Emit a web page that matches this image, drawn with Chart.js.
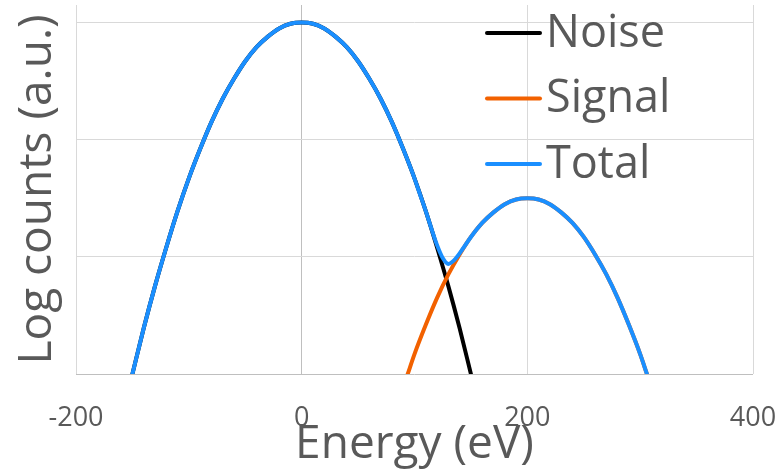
<!DOCTYPE html>
<html>
<head>
<meta charset="utf-8">
<script src="https://cdn.jsdelivr.net/npm/chart.js@4.4.0/dist/chart.umd.min.js"></script>
<style>
  html, body { margin: 0; padding: 0; background: #fff; }
  #wrap { width: 783px; height: 472px; position: relative; }
</style>
</head>
<body>
<div id="wrap"><canvas id="spectrumChart"></canvas></div>
<script>
// Energy axis ticks
const xTicks = [-200, 0, 200, 400];

// Noise (log counts)
const noiseEnergy = [-150, -140, -130, -120, -110, -100, -90, -80, -70, -60, -50, -40, -30, -20, -10,
    0, 10, 20, 30, 40, 50, 60, 70, 80, 90, 100, 110, 120, 130, 140, 150];
const noiseCounts = [0, 0.39, 0.75, 1.08, 1.39, 1.67, 1.92, 2.15, 2.35, 2.52, 2.67, 2.79, 2.88, 2.95, 2.99,
    3.00, 2.99, 2.95, 2.88, 2.79, 2.67, 2.52, 2.35, 2.15, 1.92, 1.67, 1.39, 1.08, 0.75, 0.39, 0];

// Signal
const signalEnergy = [94, 100, 110, 120, 130, 140, 150, 160, 170, 180, 190, 200,
    210, 220, 230, 240, 250, 260, 270, 280, 290, 300, 306];
const signalCounts = [0, 0.17, 0.42, 0.65, 0.85, 1.02, 1.17, 1.29, 1.38, 1.45, 1.49, 1.50,
    1.49, 1.45, 1.38, 1.29, 1.17, 1.02, 0.85, 0.65, 0.42, 0.17, 0];

// Total
const totalEnergy = [-150, -140, -130, -120, -110, -100, -90, -80, -70, -60, -50, -40, -30, -20, -10,
    0, 10, 20, 30, 40, 50, 60, 70, 80, 90, 100, 105, 110, 115, 120, 125, 130, 135, 140, 145, 150,
    160, 170, 180, 190, 200, 210, 220, 230, 240, 250, 260, 270, 280, 290, 300, 306];
const totalCounts = [0, 0.39, 0.75, 1.08, 1.39, 1.67, 1.92, 2.15, 2.35, 2.52, 2.67, 2.79, 2.88, 2.95, 2.99,
    3.00, 2.99, 2.95, 2.88, 2.79, 2.67, 2.52, 2.35, 2.15, 1.92, 1.67, 1.53, 1.39, 1.24, 1.10, 0.99, 0.94, 0.97, 1.03, 1.10, 1.17,
    1.29, 1.38, 1.45, 1.49, 1.50, 1.49, 1.45, 1.38, 1.29, 1.17, 1.02, 0.85, 0.65, 0.42, 0.17, 0];

const TEXT_COLOR = '#595959';

function toPoints(xs, ys) {
    return xs.map((x, i) => ({ x: x, y: ys[i] }));
}

// legend drawn inside the plot, top right
const insideLegend = {
    id: 'insideLegend',
    afterDraw(chart) {
        const { ctx, chartArea } = chart;
        const x0 = chartArea.right - 266;
        ctx.save();
        ctx.font = '45px "Open Sans"';
        ctx.textBaseline = 'middle';
        ctx.textAlign = 'left';
        chart.data.datasets.forEach((ds, i) => {
            const y = chartArea.top + 28 + i * 65.5;
            ctx.strokeStyle = ds.borderColor;
            ctx.lineWidth = 4;
            ctx.lineCap = 'round';
            ctx.beginPath();
            ctx.moveTo(x0, y);
            ctx.lineTo(x0 + 53, y);
            ctx.stroke();
            ctx.fillStyle = TEXT_COLOR;
            ctx.fillText(ds.label, x0 + 59, y + 1);
        });
        ctx.restore();
    }
};

const lineStyle = {
    borderWidth: 4,
    pointRadius: 0,
    fill: false,
    cubicInterpolationMode: 'monotone',
    borderCapStyle: 'round',
    borderJoinStyle: 'round'
};

new Chart(document.getElementById('spectrumChart'), {
    type: 'line',
    data: {
        datasets: [
            { label: 'Noise', data: toPoints(noiseEnergy, noiseCounts), borderColor: '#000000', order: 2, ...lineStyle },
            { label: 'Signal', data: toPoints(signalEnergy, signalCounts), borderColor: '#F26100', order: 1, ...lineStyle },
            { label: 'Total', data: toPoints(totalEnergy, totalCounts), borderColor: '#1A8FFF', order: 0, ...lineStyle }
        ]
    },
    options: {
        responsive: true,
        maintainAspectRatio: false,
        animation: false,
        layout: { padding: { top: 5, right: 0, left: 0, bottom: 0 } },
        plugins: {
            legend: { display: false },
            tooltip: { enabled: false }
        },
        scales: {
            x: {
                type: 'linear',
                min: -200,
                max: 400,
                afterBuildTicks: (scale) => { scale.ticks = xTicks.map(v => ({ value: v })); },
                afterFit: (scale) => {
                    scale.height = 98;
                    scale.paddingLeft = 0;
                    scale.paddingRight = 30;
                },
                ticks: {
                    color: TEXT_COLOR,
                    font: { family: 'Open Sans', size: 27 },
                    padding: 28,
                    maxRotation: 0
                },
                grid: {
                    color: (c) => c.tick && c.tick.value === 0 ? '#bfbfbf' : '#d9d9d9',
                    lineWidth: 1,
                    drawTicks: false
                },
                border: { display: false },
                title: {
                    display: true,
                    text: 'Energy (eV)',
                    color: TEXT_COLOR,
                    font: { family: 'Open Sans', size: 46, lineHeight: 1.2 },
                    padding: 0
                }
            },
            y: {
                min: 0,
                max: 3.15,
                afterBuildTicks: (scale) => { scale.ticks = [0, 1, 2, 3].map(v => ({ value: v })); },
                afterFit: (scale) => { scale.width = 76; },
                ticks: { display: false },
                grid: {
                    color: (c) => c.tick && c.tick.value === 0 ? '#bfbfbf' : '#d9d9d9',
                    lineWidth: 1,
                    drawTicks: false
                },
                border: { display: false },
                title: {
                    display: true,
                    text: 'Log counts (a.u.)',
                    color: TEXT_COLOR,
                    font: { family: 'Open Sans', size: 46, lineHeight: 1.2 },
                    padding: { top: 10, bottom: 0 }
                }
            }
        }
    },
    plugins: [insideLegend]
});
</script>
</body>
</html>
